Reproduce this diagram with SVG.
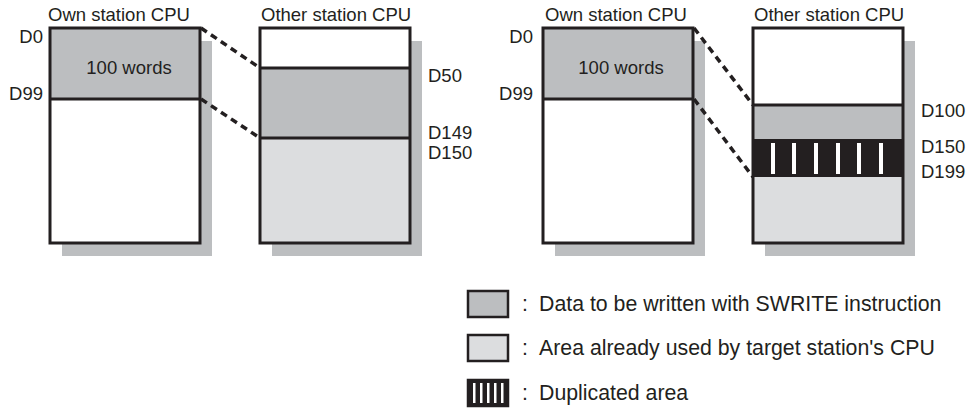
<svg xmlns="http://www.w3.org/2000/svg" width="967" height="408" viewBox="0 0 967 408">
<style>
text{font-family:"Liberation Sans",Arial,sans-serif;fill:#231f20}
.lbl{font-size:18.5px}
.leg{font-size:21.3px}
.sh{fill:#bcbec0}
.dat{fill:#bcbec0}
.used{fill:#dcdddf}
.wh{fill:#ffffff}
.blk{fill:#231f20}
.bar{fill:#ffffff}
.ol{fill:none;stroke:#231f20;stroke-width:3}
.dv{stroke:#231f20;stroke-width:3}
.dash{stroke:#231f20;stroke-width:3.5;stroke-dasharray:7 5;fill:none}
.lsq{stroke:#231f20;stroke-width:2.5}
</style>
<rect width="967" height="408" fill="#ffffff"/>

<g id="own-cpu-1">
  <rect class="sh" x="62" y="41" width="150" height="215"/>
  <rect class="dat" x="50" y="28" width="150" height="71"/>
  <rect class="wh" x="50" y="99" width="150" height="144"/>
  <line class="dv" x1="50" y1="99" x2="200" y2="99"/>
  <rect class="ol" x="50" y="28" width="150" height="215"/>
  <text class="lbl" x="48" y="21">Own station CPU</text>
  <text class="lbl" x="43" y="43" text-anchor="end">D0</text>
  <text class="lbl" x="43" y="100" text-anchor="end">D99</text>
  <text class="lbl" x="129" y="74" text-anchor="middle">100 words</text>
</g>

<g id="other-cpu-1">
  <rect class="sh" x="272" y="41" width="150" height="215"/>
  <rect class="wh" x="260" y="28" width="150" height="40"/>
  <rect class="dat" x="260" y="68" width="150" height="70"/>
  <rect class="used" x="260" y="138" width="150" height="105"/>
  <line class="dv" x1="260" y1="68" x2="410" y2="68"/>
  <line class="dv" x1="260" y1="138" x2="410" y2="138"/>
  <rect class="ol" x="260" y="28" width="150" height="215"/>
  <text class="lbl" x="261" y="21">Other station CPU</text>
  <text class="lbl" x="428" y="82">D50</text>
  <text class="lbl" x="428" y="139">D149</text>
  <text class="lbl" x="428" y="159">D150</text>
</g>

<g id="own-cpu-2">
  <rect class="sh" x="555" y="41" width="150" height="215"/>
  <rect class="dat" x="543" y="28" width="150" height="71"/>
  <rect class="wh" x="543" y="99" width="150" height="144"/>
  <line class="dv" x1="543" y1="99" x2="693" y2="99"/>
  <rect class="ol" x="543" y="28" width="150" height="215"/>
  <text class="lbl" x="545" y="21">Own station CPU</text>
  <text class="lbl" x="533" y="43" text-anchor="end">D0</text>
  <text class="lbl" x="533" y="100" text-anchor="end">D99</text>
  <text class="lbl" x="621" y="74" text-anchor="middle">100 words</text>
</g>

<g id="other-cpu-2">
  <rect class="sh" x="765" y="41" width="150" height="215"/>
  <rect class="wh" x="753" y="28" width="150" height="77"/>
  <rect class="dat" x="753" y="105" width="150" height="34"/>
  <rect class="blk" x="753" y="139" width="150" height="38"/>
  <rect class="used" x="753" y="177" width="150" height="66"/>
  <rect class="bar" x="771" y="143" width="4" height="31"/>
  <rect class="bar" x="792" y="143" width="4" height="31"/>
  <rect class="bar" x="814" y="143" width="4" height="31"/>
  <rect class="bar" x="836" y="143" width="4" height="31"/>
  <rect class="bar" x="857" y="143" width="4" height="31"/>
  <rect class="bar" x="879" y="143" width="4" height="31"/>
  <line class="dv" x1="753" y1="105" x2="903" y2="105"/>
  <rect class="ol" x="753" y="28" width="150" height="215"/>
  <text class="lbl" x="754" y="21">Other station CPU</text>
  <text class="lbl" x="921" y="117">D100</text>
  <text class="lbl" x="921" y="153">D150</text>
  <text class="lbl" x="921" y="178">D199</text>
</g>

<g id="connectors">
  <line class="dash" x1="201" y1="28" x2="260" y2="68"/>
  <line class="dash" x1="201" y1="99" x2="260" y2="138"/>
  <line class="dash" x1="694" y1="28" x2="753" y2="105"/>
  <line class="dash" x1="694" y1="99" x2="753" y2="177"/>
</g>

<g id="legend-write">
  <rect class="lsq dat" x="468" y="291" width="40" height="26"/>
  <text class="leg" x="522" y="311">:</text>
  <text class="leg" x="539" y="311">Data to be written with SWRITE instruction</text>
</g>
<g id="legend-used">
  <rect class="lsq used" x="468" y="335" width="40" height="26"/>
  <text class="leg" x="522" y="355">:</text>
  <text class="leg" x="539" y="355">Area already used by target station's CPU</text>
</g>
<g id="legend-dup">
  <rect class="lsq blk" x="468" y="380" width="40" height="26"/>
  <rect class="bar" x="473" y="383" width="2.5" height="20"/>
  <rect class="bar" x="480" y="383" width="2.5" height="20"/>
  <rect class="bar" x="487" y="383" width="2.5" height="20"/>
  <rect class="bar" x="494" y="383" width="2.5" height="20"/>
  <rect class="bar" x="501" y="383" width="2.5" height="20"/>
  <text class="leg" x="522" y="400">:</text>
  <text class="leg" x="539" y="400">Duplicated area</text>
</g>
</svg>
